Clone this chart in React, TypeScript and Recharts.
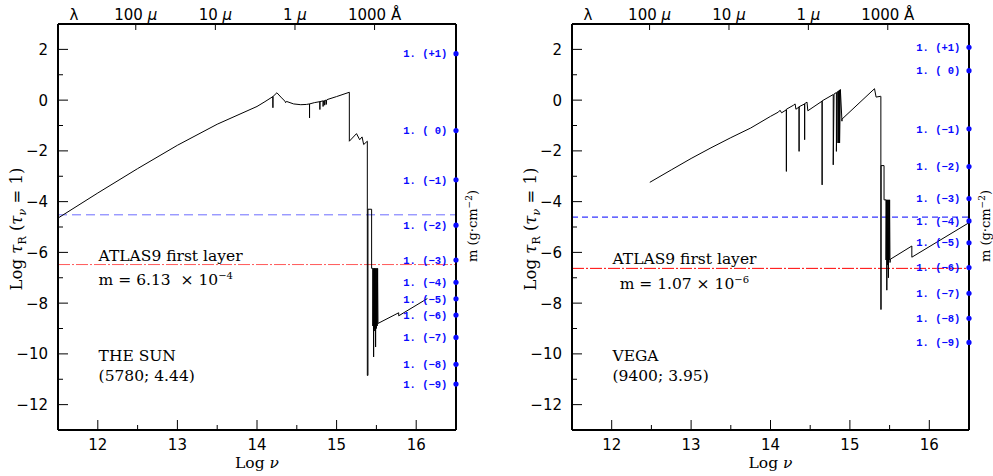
import React from "react";
import {
  ComposedChart,
  Line,
  XAxis,
  YAxis,
  ReferenceLine,
  ReferenceDot,
} from "recharts";

// log nu ticks (bottom) and log tau ticks (left)
const nuTicks = [12, 12.5, 13, 13.5, 14, 14.5, 15, 15.5, 16];
const tauTicks = [-12, -11, -10, -9, -8, -7, -6, -5, -4, -3, -2, -1, 0, 1, 2];

// wavelength scale on top, placed at log nu
const waveNu = [11.7, 12.477, 13.477, 14.477, 15.477];
const waveLabels = ["λ", "100", "10", "1", "1000"];
const waveUnits = ["", "μ", "μ", "μ", "Å"];

// mass column markers m (g cm^-2)
const massLabels = [
  "1. (+1)", "1. ( 0)", "1. (−1)", "1. (−2)", "1. (−3)", "1. (−4)",
  "1. (−5)", "1. (−6)", "1. (−7)", "1. (−8)", "1. (−9)",
];
const sunMassTau = [1.83, -1.2, -3.14, -4.93, -6.3, -7.18, -7.83, -8.47, -9.35, -10.41, -11.19];
const vegaMassTau = [2.08, 1.16, -1.13, -2.62, -3.88, -4.76, -5.62, -6.6, -7.61, -8.6, -9.55];

// Sun: log nu / log tau_R(tau_nu = 1)
const sunNu = [
  11.5, 12.0, 12.5, 13.0, 13.5, 14.0, 14.1, 14.2, 14.2, 14.2, 14.25, 14.3, 14.35, 14.36, 14.37,
  14.46, 14.55, 14.62, 14.66, 14.66, 14.66, 14.72, 14.79, 14.79, 14.79, 14.83, 14.83, 14.835,
  14.85, 14.85, 14.855, 14.87, 14.87, 14.875, 14.88, 15.0, 15.16, 15.16, 15.25, 15.29, 15.32,
  15.34, 15.386, 15.386, 15.394, 15.394, 15.44, 15.44, 15.455, 15.455, 15.46, 15.465, 15.47,
  15.475, 15.478, 15.48, 15.485, 15.49, 15.495, 15.5, 15.505, 15.51, 15.515, 15.52, 15.78,
  15.78, 16.14,
];
const sunTau = [
  -4.65, -3.66, -2.7, -1.78, -0.95, -0.25, -0.06, 0.14, -0.3, 0.14, 0.29, 0.12, -0.04, -0.1, -0.05,
  -0.15, -0.18, -0.17, -0.15, -0.7, -0.15, -0.1, -0.06, -0.37, -0.06, -0.03, -0.25, -0.03,
  -0.02, -0.2, -0.01, 0.0, -0.17, 0.0, 0.02, 0.14, 0.31, -1.62, -1.32, -1.56, -1.45,
  -1.75, -1.62, -10.85, -10.85, -4.3, -4.3, -6.63, -6.63, -8.9, -6.63, -10.12, -6.63,
  -9.0, -6.63, -9.1, -6.63, -9.73, -6.63, -9.0, -6.63, -8.9, -6.63, -8.8, -8.38,
  -8.5, -7.82,
];

// Vega
const vegaNu = [
  12.48, 12.75, 13.0, 13.25, 13.5, 13.75, 14.0, 14.1, 14.12, 14.14, 14.2, 14.2, 14.2, 14.29,
  14.31, 14.32, 14.36, 14.36, 14.36, 14.43, 14.43, 14.43, 14.46, 14.47, 14.65, 14.65, 14.65,
  14.79, 14.79, 14.8, 14.83, 14.83, 14.84, 14.85, 14.85, 14.855, 14.86, 14.86, 14.865, 14.87,
  14.87, 14.88, 14.9, 14.9, 15.31, 15.33, 15.385, 15.39, 15.39, 15.393, 15.393, 15.43, 15.43,
  15.455, 15.455, 15.46, 15.465, 15.47, 15.475, 15.48, 15.485, 15.49, 15.495, 15.5, 15.505,
  15.51, 15.78, 15.78, 16.49,
];
const vegaTau = [
  -3.24, -2.75, -2.3, -1.88, -1.48, -1.1, -0.64, -0.47, -0.4, -0.5, -0.38, -2.81, -0.36, -0.2,
  -0.15, -0.36, -0.27, -2.02, -0.26, -0.15, -1.56, -0.14, -0.08, -0.42, -0.04, -3.34, -0.03,
  0.22, -2.55, 0.24, 0.3, -2.02, 0.32, 0.34, -1.69, 0.35, 0.36, -1.69, 0.38, 0.4,
  -1.69, 0.42, -0.83, -0.75, 0.45, 0.12, 0.15, 0.15, -8.25, -8.25, -2.58, -2.58, -3.93,
  -3.93, -6.3, -3.93, -7.49, -3.93, -6.5, -3.93, -7.0, -3.93, -6.3, -3.93, -6.4,
  -6.27, -5.75, -6.19, -4.85,
];

const zip = (xs: number[], ys: number[]) => xs.map((x, i) => ({ x, y: ys[i] }));

const SERIF = "'DejaVu Serif', serif";
const SANS = "'DejaVu Sans', sans-serif";
const BLUE = "#0a0aff";

const BottomTick = (p: any) => {
  const { x, y, payload } = p;
  const major = Number.isInteger(payload.value);
  return (
    <g>
      <line x1={x} x2={x} y1={y} y2={y - (major ? 10 : 5)} stroke="#000" />
      {major && (
        <text x={x} y={y + 20} textAnchor="middle" fontSize={15} fontFamily={SANS} fill="#000">
          {payload.value}
        </text>
      )}
    </g>
  );
};

const LeftTick = (p: any) => {
  const { x, y, payload } = p;
  const v = payload.value;
  const major = v % 2 === 0;
  return (
    <g>
      <line x1={x} x2={x + (major ? 10 : 5)} y1={y} y2={y} stroke="#000" />
      {major && (
        <text x={x - 10} y={y} dy="0.36em" textAnchor="end" fontSize={15} fontFamily={SANS} fill="#000">
          {v < 0 ? "−" + Math.abs(v) : String(v)}
        </text>
      )}
    </g>
  );
};

const TopTick = (p: any) => {
  const { x, y, index } = p;
  const first = index === 0;
  return (
    <g>
      {!first && <line x1={x} x2={x} y1={y} y2={y + 6} stroke="#000" />}
      <text x={x} y={y - 4} textAnchor="middle" fontSize={15} fontFamily={SANS} fill="#000">
        {waveLabels[index]}
        {waveUnits[index] && (
          <tspan fontStyle={waveUnits[index] === "μ" ? "italic" : "normal"}>{" " + waveUnits[index]}</tspan>
        )}
      </text>
    </g>
  );
};

const note = (content: React.ReactNode) => (p: any) => (
  <text x={p.cx} y={p.cy} dy="0.35em" fontSize={15.5} fontFamily={SERIF} fill="#000">
    {content}
  </text>
);

interface PanelProps {
  width: number;
  rightWidth: number;
  spectrum: { x: number; y: number }[];
  massTau: number[];
  blueY: number;
  redY: number;
  blueColor: string;
  redColor: string;
  blueDash: string;
  name: string;
  params: string;
  mass: string;
  exp: string;
  layerY: number;
  massX: number;
}

const Panel: React.FC<PanelProps> = (props) => {
  const { width, rightWidth, spectrum, massTau } = props;
  return (
    <ComposedChart width={width} height={476} margin={{ top: 0, right: 0, bottom: 0, left: 0 }}>
      <XAxis
        xAxisId="b"
        dataKey="x"
        type="number"
        domain={[11.5, 16.5]}
        ticks={nuTicks}
        allowDataOverflow
        height={46}
        tickSize={0}
        tickMargin={0}
        tickLine={false}
        tick={BottomTick}
        axisLine={{ stroke: "#000", strokeWidth: 2 }}
        label={{
          content: (lp: any) => {
            const vb = lp.viewBox;
            return (
              <text x={vb.x + vb.width / 2} y={vb.y + 38} textAnchor="middle" fontSize={15.5} fontFamily={SERIF}>
                Log <tspan fontStyle="italic">ν</tspan>
              </text>
            );
          },
        }}
      />
      <XAxis
        xAxisId="t"
        dataKey="x"
        orientation="top"
        type="number"
        domain={[11.5, 16.5]}
        ticks={waveNu}
        allowDataOverflow
        height={24}
        tickSize={0}
        tickMargin={0}
        tickLine={false}
        tick={TopTick}
        axisLine={{ stroke: "#000", strokeWidth: 2 }}
      />
      <YAxis
        yAxisId="l"
        type="number"
        domain={[-13, 3]}
        ticks={tauTicks}
        allowDataOverflow
        width={58}
        tickSize={0}
        tickMargin={0}
        tickLine={false}
        tick={LeftTick}
        axisLine={{ stroke: "#000", strokeWidth: 2 }}
        label={{
          content: (lp: any) => {
            const vb = lp.viewBox;
            const cx = vb.x + 16;
            const cy = vb.y + vb.height / 2 + 2;
            return (
              <text
                x={cx}
                y={cy}
                transform={`rotate(-90 ${cx} ${cy})`}
                textAnchor="middle"
                dy="0.35em"
                fontSize={16.5}
                fontFamily={SERIF}
              >
                Log <tspan fontStyle="italic">τ</tspan>
                <tspan dy={4} fontSize={11}>R</tspan>
                <tspan dy={-4}> (</tspan>
                <tspan fontStyle="italic">τ</tspan>
                <tspan dy={4} fontSize={11} fontStyle="italic">ν</tspan>
                <tspan dy={-4}> = 1)</tspan>
              </text>
            );
          },
        }}
      />
      <YAxis
        yAxisId="r"
        orientation="right"
        type="number"
        domain={[-13, 3]}
        allowDataOverflow
        width={rightWidth}
        tick={false}
        tickLine={false}
        axisLine={{ stroke: "#000", strokeWidth: 2 }}
        label={{
          content: (lp: any) => {
            const vb = lp.viewBox;
            const cx = vb.x + 16;
            const cy = 226;
            return (
              <text
                x={cx}
                y={cy}
                transform={`rotate(-90 ${cx} ${cy})`}
                textAnchor="middle"
                dy="0.35em"
                fontSize={13}
                fontFamily={SERIF}
              >
                m (g·cm<tspan dy={-5} fontSize={9}>−2</tspan>
                <tspan dy={5}>)</tspan>
              </text>
            );
          },
        }}
      />
      <ReferenceLine xAxisId="b" yAxisId="l" y={props.blueY} stroke={props.blueColor} strokeDasharray={props.blueDash} />
      <ReferenceLine xAxisId="b" yAxisId="l" y={props.redY} stroke={props.redColor} strokeDasharray="12 2 2 2" />
      {/* invisible copy so the top wavelength axis is laid out */}
      <Line
        xAxisId="t"
        yAxisId="r"
        data={spectrum}
        dataKey="y"
        stroke="none"
        dot={false}
        activeDot={false}
        isAnimationActive={false}
      />
      <Line
        xAxisId="b"
        yAxisId="l"
        data={spectrum}
        dataKey="y"
        type="linear"
        stroke="#000"
        strokeWidth={1}
        dot={false}
        isAnimationActive={false}
      />
      {massTau.map((v, i) => (
        <ReferenceDot
          key={i}
          xAxisId="b"
          yAxisId="l"
          x={16.5}
          y={v}
          r={2.6}
          fill={BLUE}
          stroke="none"
          ifOverflow="visible"
          label={{
            value: massLabels[i],
            position: "left",
            offset: 6,
            fill: BLUE,
            fontSize: 10.5,
            fontWeight: "bold",
            fontFamily: "'Liberation Mono', monospace",
          }}
        />
      ))}
      <ReferenceDot
        xAxisId="b"
        yAxisId="l"
        x={12.01}
        y={props.layerY}
        r={1}
        ifOverflow="visible"
        shape={note("ATLAS9 first layer")}
      />
      <ReferenceDot
        xAxisId="b"
        yAxisId="l"
        x={props.massX}
        y={props.layerY - 0.95}
        r={1}
        ifOverflow="visible"
        shape={note(
          <>
            {props.mass}
            <tspan dy={-6} fontSize={10}>{props.exp}</tspan>
          </>
        )}
      />
      <ReferenceDot xAxisId="b" yAxisId="l" x={12.01} y={-10.06} r={1} ifOverflow="visible" shape={note(props.name)} />
      <ReferenceDot xAxisId="b" yAxisId="l" x={12.01} y={-10.85} r={1} ifOverflow="visible" shape={note(props.params)} />
    </ComposedChart>
  );
};

export default function App() {
  return (
    <div style={{ position: "absolute", left: 0, top: 0, width: 993, height: 476, background: "#fff", overflow: "hidden" }}>
      <div style={{ position: "absolute", left: 0, top: 0 }}>
        <Panel
          width={514}
          rightWidth={58}
          spectrum={zip(sunNu, sunTau)}
          massTau={sunMassTau}
          blueY={-4.52}
          redY={-6.48}
          blueColor="#6c6cff"
          redColor="#ff5a5a"
          blueDash="9 5"
          name="THE SUN"
          params="(5780; 4.44)"
          mass={"m = 6.13 \u00a0× 10"}
          exp="−4"
          layerY={-6.14}
          massX={12.01}
        />
      </div>
      <div style={{ position: "absolute", left: 514, top: 0 }}>
        <Panel
          width={479}
          rightWidth={24}
          spectrum={zip(vegaNu, vegaTau)}
          massTau={vegaMassTau}
          blueY={-4.61}
          redY={-6.63}
          blueColor="#0000ff"
          redColor="#ff0000"
          blueDash="6 4"
          name="VEGA"
          params="(9400; 3.95)"
          mass={"m = 1.07 × 10"}
          exp="−6"
          layerY={-6.26}
          massX={12.1}
        />
      </div>
    </div>
  );
}
